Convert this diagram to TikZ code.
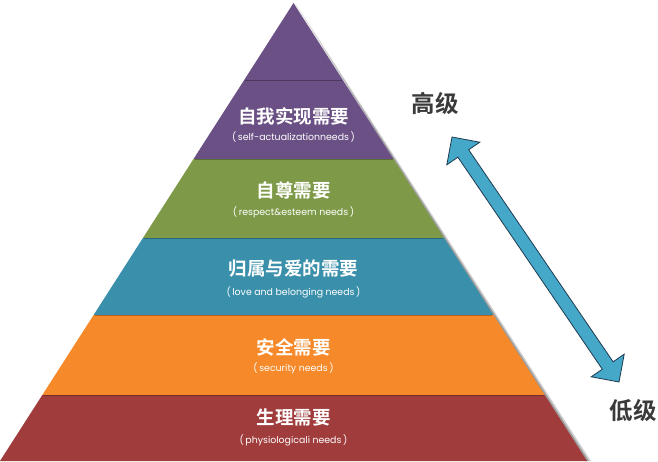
\documentclass[tikz,border=0pt]{standalone}
\usepackage{fontspec}
\newfontfamily\cjk{Noto Sans CJK SC Bold}
\newfontfamily\subf{Poppins}
\usetikzlibrary{calc}
\definecolor{cpurple}{RGB}{106,80,132}
\definecolor{cgreen}{RGB}{126,154,72}
\definecolor{cblue}{RGB}{58,143,171}
\definecolor{corange}{RGB}{246,138,42}
\definecolor{cred}{RGB}{160,60,60}
\definecolor{carrow}{RGB}{69,168,200}
\definecolor{carrowline}{RGB}{30,58,80}
\definecolor{clabel}{RGB}{58,58,58}
\tikzset{
  title/.style={text=white, font=\cjk\fontsize{18.5}{19}\selectfont, inner sep=0pt},
  sub/.style={text=white, font=\subf\fontsize{9.4}{11}\selectfont, inner sep=0pt},
  level/.style={text=clabel, font=\cjk\fontsize{23.5}{25}\selectfont, inner sep=0pt},
  bandshade/.style={line width=1.4pt, draw opacity=0.28, draw=black}
}
\begin{document}
\begin{tikzpicture}[x=1pt,y=-1pt]
\useasboundingbox (0,0) rectangle (658,461);
% shadow of pyramid
\fill[black, opacity=0.18] (295.5,3) -- (591,461) -- (583,461) -- cycle;
\fill[black, opacity=0.25] (294.5,3) -- (589,461) -- (585,461) -- cycle;
% bands
\fill[cpurple] (293.5,3) -- (342.8,80) -- (244.2,80) -- cycle;
\fill[cpurple] (244.2,80) -- (342.8,80) -- (393.5,159) -- (193.5,159) -- cycle;
\fill[cgreen] (193.5,159) -- (393.5,159) -- (444.1,238) -- (142.9,238) -- cycle;
\fill[cblue] (142.9,238) -- (444.1,238) -- (493.4,315) -- (93.6,315) -- cycle;
\fill[corange] (93.6,315) -- (493.4,315) -- (544.7,395) -- (42.3,395) -- cycle;
\fill[cred] (42.3,395) -- (544.7,395) -- (587,461) -- (0,461) -- cycle;
% band top shading
\draw[bandshade] (245.2,80.7) -- (341.8,80.7);
\draw[bandshade] (194.5,159.7) -- (392.5,159.7);
\draw[bandshade] (143.9,238.7) -- (443.1,238.7);
\draw[bandshade] (94.6,315.7) -- (492.4,315.7);
\draw[bandshade] (43.3,395.7) -- (543.7,395.7);
% texts
\node[title] (t1) at (293.5,116) {自我实现需要};
\node[sub] (s1) at (293.5,137) {(\,self-actualizationneeds\,)};
\node[title] (t2) at (293.5,190) {自尊需要};
\node[sub] (s2) at (293.5,212) {(\,respect\&esteem needs\,)};
\node[title] (t3) at (293.5,269) {归属与爱的需要};
\node[sub] (s3) at (293.5,292) {(\,love and belonging needs\,)};
\node[title] (t4) at (293.5,347) {安全需要};
\node[sub] (s4) at (293.5,368) {(\,security needs\,)};
\node[title] (t5) at (293.5,417) {生理需要};
\node[sub] (s5) at (293.5,440) {(\,physiologicali needs\,)};
\node[level] (hi) at (435,104) {高级};
\node[level] (lo) at (633,411) {低级};
% double arrow
\coordinate (A) at (452,137);
\coordinate (B) at (619,382);
\fill[carrow, draw=carrowline, line width=0.8pt, line join=miter]
  (A) -- (479.8,142.2) -- (468.7,149.8) -- (613.1,361.8) -- (624.2,354.2)
  -- (B) -- (591.2,376.8) -- (602.3,369.2) -- (457.9,157.2) -- (446.8,164.8) -- cycle;
\end{tikzpicture}
\end{document}
